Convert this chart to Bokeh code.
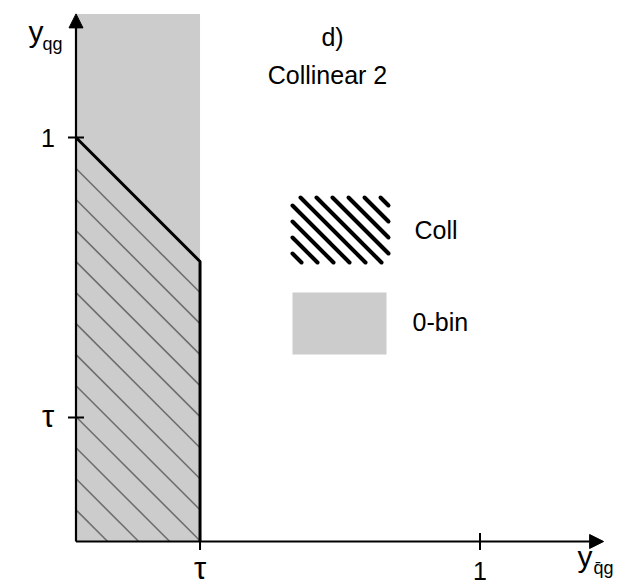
import math
from bokeh.plotting import figure
from bokeh.models import Arrow, NormalHead, Range1d, ColumnDataSource
from bokeh.core.properties import value
from bokeh.embed import file_html
from bokeh.resources import INLINE

# ---------------- data ----------------
tau = 0.307
axis_end = 1.306
x_tick_values = [tau, 1.0]
x_tick_labels = ["τ", "1"]
y_tick_values = [tau, 1.0]
y_tick_labels = ["τ", "1"]
zero_bin_x = [0.0, tau]
zero_bin_y = [0.0, axis_end]
coll_x = [0.0, 0.0, tau, tau]
coll_y = [0.0, 1.0, 1.0 - tau, 0.0]
boundary_x = [0.0, tau, tau]
boundary_y = [1.0, 1.0 - tau, 0.0]
hatch_step = 0.0768          # spacing of the hatch lines (data units, along y)
legend_labels = ["Coll", "0-bin"]
title_lines = ["d)", "Collinear 2"]
y_axis_label = ("y", "qg")
x_axis_label = ("y", "q\u0304g")

# ---------------- layout (page pixels) ----------------
W, H = 643, 583
ORIGIN_X, ORIGIN_Y, SCALE = 75.5, 541.0, 404.0
BASE_SHIFT = 0.35   # empirical: svg text baseline correction (fraction of font size)


def dx(X):
    return (X - ORIGIN_X) / SCALE


def dy(Y):
    return (ORIGIN_Y - Y) / SCALE


def by(Y, size):
    """data y for a text whose baseline should sit at page Y"""
    return dy(Y - BASE_SHIFT * size)


x_start = dx(0)
x_end = dx(W)
y_start = dy(H)
y_end = dy(0)

FONT = value("Liberation Sans")
GRAY = "#cccccc"

p = figure(width=W, height=H, output_backend="svg", toolbar_location=None,
           x_range=Range1d(x_start, x_end), y_range=Range1d(y_start, y_end),
           x_axis_type=None, y_axis_type=None, min_border=0,
           outline_line_color=None)
p.xgrid.visible = False
p.ygrid.visible = False
p.background_fill_color = "white"
p.border_fill_color = "white"

# 0-bin region
p.quad(left=[zero_bin_x[0]], right=[zero_bin_x[1]], bottom=[zero_bin_y[0]],
       top=[zero_bin_y[1]], fill_color=GRAY, line_color=None)

# Collinear region hatch: lines parallel to the boundary y = 1 - x, clipped to region
h_x0, h_y0, h_x1, h_y1 = [], [], [], []
k = 1
while 1.0 - k * hatch_step > 0.005:
    c = 1.0 - k * hatch_step
    xe = min(tau, c)
    h_x0.append(0.0); h_y0.append(c)
    h_x1.append(xe); h_y1.append(c - xe)
    k += 1
p.segment(h_x0, h_y0, h_x1, h_y1, line_color="#6e6e6e", line_width=1.6)

# boundary
p.line(boundary_x, boundary_y, line_color="black", line_width=3)

# axes with arrows
p.add_layout(Arrow(end=NormalHead(size=14, fill_color="black", line_color="black"),
                   x_start=0, y_start=0, x_end=axis_end, y_end=0,
                   line_width=2.2, line_color="black"))
p.add_layout(Arrow(end=NormalHead(size=14, fill_color="black", line_color="black"),
                   x_start=0, y_start=0, x_end=0, y_end=axis_end,
                   line_width=2.2, line_color="black"))

# ticks
p.scatter(x=x_tick_values, y=[0] * len(x_tick_values), marker="dash", size=17,
          angle=math.pi / 2, line_color="black", line_width=2)
p.scatter(x=[0] * len(y_tick_values), y=y_tick_values, marker="dash", size=16,
          line_color="black", line_width=2)


# tick labels
def tick_size(lbl):
    return 31 if lbl == "τ" else 25


xsz = [tick_size(l) for l in x_tick_labels]
xs = ColumnDataSource(dict(x=x_tick_values, y=[0] * len(x_tick_values),
                           t=x_tick_labels, s=["%dpx" % s for s in xsz],
                           yo=[38 - BASE_SHIFT * s for s in xsz]))
p.text(x="x", y="y", text="t", source=xs, text_font=FONT, text_font_size="s",
       text_align="center", text_baseline="alphabetic", y_offset="yo",
       text_color="black")
ysz = [tick_size(l) for l in y_tick_labels]
ys = ColumnDataSource(dict(x=[0] * len(y_tick_values), y=y_tick_values,
                           t=y_tick_labels, s=["%dpx" % s for s in ysz],
                           yo=[(10 if l == "τ" else 9) - BASE_SHIFT * s
                               for l, s in zip(y_tick_labels, ysz)]))
p.text(x="x", y="y", text="t", source=ys, text_font=FONT, text_font_size="s",
       text_align="center", text_baseline="alphabetic", x_offset=-28, y_offset="yo",
       text_color="black")

# axis labels
p.text(x=[dx(28)], y=[by(41, 30)], text=[y_axis_label[0]], text_font=FONT,
       text_font_size="30px", text_align="left", text_baseline="alphabetic")
p.text(x=[dx(42)], y=[by(50, 18)], text=[y_axis_label[1]], text_font=FONT,
       text_font_size="18px", text_align="left", text_baseline="alphabetic")
p.text(x=[dx(577)], y=[by(566, 30)], text=[x_axis_label[0]], text_font=FONT,
       text_font_size="30px", text_align="left", text_baseline="alphabetic")
p.text(x=[dx(593)], y=[by(574, 18)], text=[x_axis_label[1]], text_font=FONT,
       text_font_size="18px", text_align="left", text_baseline="alphabetic")

# title
p.text(x=[dx(332), dx(327)], y=[by(45, 25), by(83, 25)], text=title_lines,
       text_font=FONT, text_font_size="25px", text_align="center",
       text_baseline="alphabetic")

# legend: hatched swatch drawn as 45-degree strokes with round caps
LX0, LY0, LX1, LY1 = 292, 197, 388, 262    # page px
LSTEP = 16
lw, lh = LX1 - LX0, LY1 - LY0
s_x0, s_y0, s_x1, s_y1 = [], [], [], []
cp = lh - 9
while cp > -lw:
    # relative line: y' = x' + cp  (down-right on screen)
    xa = max(0, -cp); ya = xa + cp
    xb = min(lw, lh - cp); yb = xb + cp
    s_x0.append(dx(LX0 + xa)); s_y0.append(dy(LY0 + ya))
    s_x1.append(dx(LX0 + xb)); s_y1.append(dy(LY0 + yb))
    cp -= LSTEP
p.segment(s_x0, s_y0, s_x1, s_y1, line_color="black", line_width=4,
          line_cap="round")
p.quad(left=[dx(292)], right=[dx(386)], bottom=[dy(354)], top=[dy(292)],
       fill_color=GRAY, line_color=None)
p.text(x=[dx(414), dx(412)], y=[by(238, 25), by(330, 25)], text=legend_labels,
       text_font=FONT, text_font_size="25px", text_align="left",
       text_baseline="alphabetic")

open("out.html", "w").write(file_html(p, INLINE))
